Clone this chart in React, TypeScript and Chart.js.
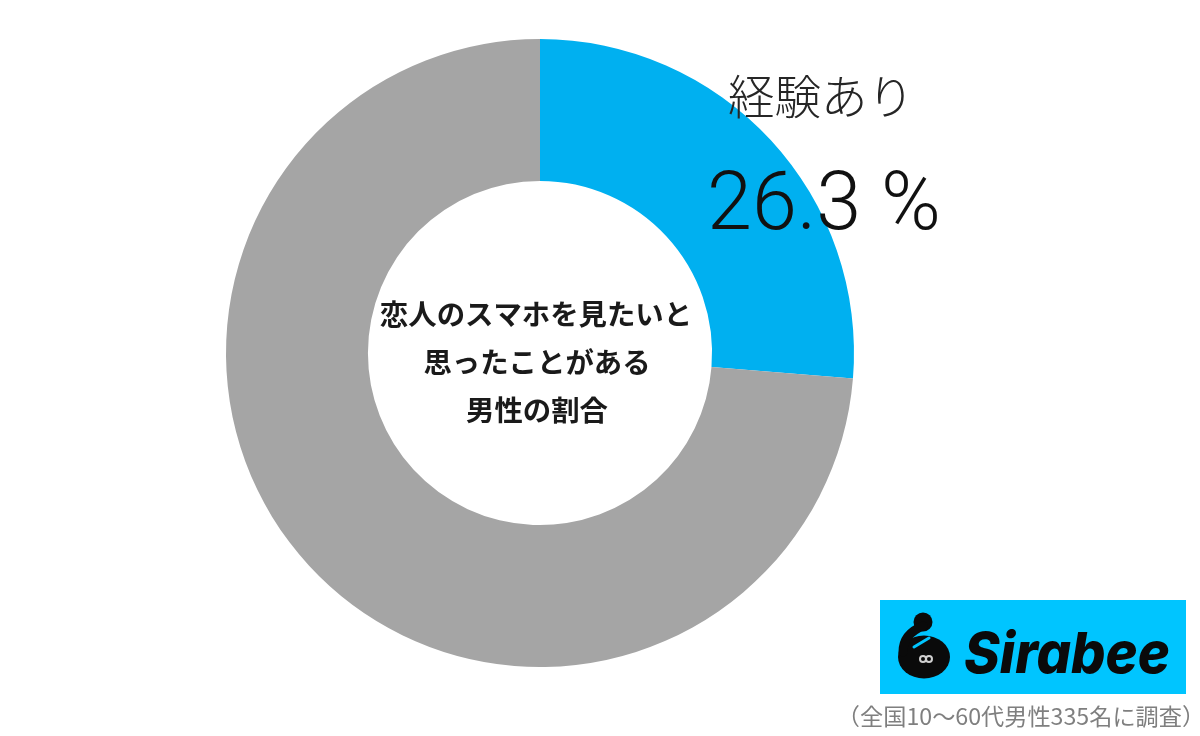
import { useEffect, useRef } from "react";
import { Chart, registerables } from "chart.js";

Chart.register(...registerables);

const categories = ["経験あり", "経験なし"];
const shares = [26.3, 73.7];
const sliceColors = ["#00B0F0", "#A5A5A5"];
const centerLines = ["恋人のスマホを見たいと", "思ったことがある", "男性の割合"];
const footNote = "（全国10～60代男性335名に調査）";

const jpFont = '"Noto Sans CJK JP", "Noto Sans", sans-serif';

// labels, logo and note that sit on top of the doughnut
const overlayPlugin = {
  id: "overlay",
  afterDraw(chart: Chart) {
    const ctx = chart.ctx;
    ctx.save();
    ctx.textAlign = "center";
    ctx.textBaseline = "middle";

    ctx.fillStyle = "#1a1a1a";
    ctx.font = `700 28.4px ${jpFont}`;
    ctx.fillText(centerLines[0], 536, 314);
    ctx.fillText(centerLines[1], 537, 362);
    ctx.fillText(centerLines[2], 537, 410);

    ctx.fillStyle = "#262626";
    ctx.font = `300 46.5px ${jpFont}`;
    ctx.fillText(categories[0], 821, 96);
    ctx.fillStyle = "#111";
    ctx.font = "300 81px Roboto, sans-serif";
    ctx.textBaseline = "alphabetic";
    ctx.fillText(`${shares[0]} %`, 824, 229);

    // Sirabee logo
    ctx.fillStyle = "#00C5FF";
    ctx.fillRect(880, 600, 306, 94);
    ctx.fillStyle = "#0a0a0a";
    ctx.strokeStyle = "#0a0a0a";
    ctx.beginPath();
    ctx.ellipse(924, 657, 26, 21.5, 0, 0, Math.PI * 2);
    ctx.fill();
    ctx.beginPath();
    ctx.arc(923, 622, 9.5, 0, Math.PI * 2);
    ctx.fill();
    ctx.lineWidth = 9;
    ctx.lineCap = "round";
    ctx.beginPath();
    ctx.moveTo(923, 626);
    ctx.quadraticCurveTo(903, 634, 903, 652);
    ctx.stroke();
    ctx.strokeStyle = "#00C5FF";
    ctx.lineWidth = 3;
    ctx.beginPath();
    ctx.moveTo(914, 647);
    ctx.lineTo(929, 638);
    ctx.stroke();
    ctx.strokeStyle = "#d0d0d0";
    ctx.lineWidth = 2;
    ctx.beginPath();
    ctx.arc(923, 659, 3, 0, Math.PI * 2);
    ctx.moveTo(932, 659);
    ctx.arc(929, 659, 3, 0, Math.PI * 2);
    ctx.stroke();

    ctx.fillStyle = "#0a0a0a";
    ctx.textAlign = "left";
    ctx.font = "italic 800 57px Inter, Roboto, sans-serif";
    ctx.fillText("Sirabee", 964, 673, 206);

    ctx.textAlign = "center";
    ctx.textBaseline = "middle";
    ctx.fillStyle = "#7f7f7f";
    ctx.font = `400 23.2px ${jpFont}`;
    ctx.fillText(footNote, 1021, 716);
    ctx.restore();
  },
};

function App() {
  const chartRef = useRef<HTMLCanvasElement | null>(null);

  useEffect(() => {
    document.body.style.margin = "0";
    if (!chartRef.current) return;

    const chart = new Chart(chartRef.current, {
      type: "doughnut",
      data: {
        labels: categories,
        datasets: [
          {
            data: shares,
            backgroundColor: sliceColors,
            borderWidth: 0,
          },
        ],
      },
      options: {
        responsive: false,
        animation: false,
        cutout: "54.8%",
        layout: { padding: { left: 226, right: 346, top: 39, bottom: 69 } },
        plugins: {
          legend: { display: false },
          tooltip: { enabled: false },
        },
      },
      plugins: [overlayPlugin],
    });

    return () => {
      chart.destroy();
    };
  }, []);

  return (
    <div style={{ width: 1200, height: 736, background: "#fff" }}>
      <canvas ref={chartRef} width="1200" height="736" style={{ display: "block" }}></canvas>
    </div>
  );
}

export default App;
